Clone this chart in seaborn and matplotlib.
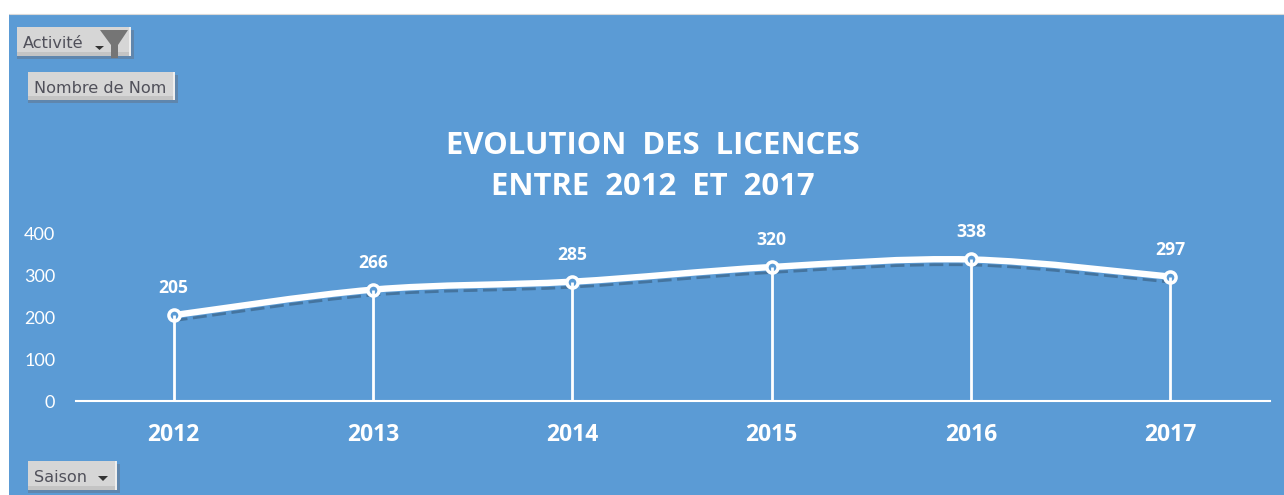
import numpy as np
import pandas as pd
import seaborn as sns
import matplotlib.pyplot as plt
from matplotlib.patches import Rectangle, Polygon, PathPatch
from matplotlib.path import Path
from matplotlib.transforms import ScaledTranslation

years = ['2012', '2013', '2014', '2015', '2016', '2017']
licences = [205, 266, 285, 320, 338, 297]
yticks = [0, 100, 200, 300, 400]

BLUE = '#5b9bd5'
W, H = 1284, 495

sns.set_theme(style='white')
plt.rcParams['font.family'] = ['Lato', 'DejaVu Sans']


def smooth_path(ys):
    # courbe lissee facon Excel
    n = len(ys)
    verts = [(0, ys[0])]
    codes = [Path.MOVETO]
    for i in range(n - 1):
        y0 = ys[max(i - 1, 0)]
        y3 = ys[min(i + 2, n - 1)]
        x0 = max(i - 1, 0)
        x3 = min(i + 2, n - 1)
        verts.append((i + (i + 1 - x0) / 6, ys[i] + (ys[i + 1] - y0) / 6))
        verts.append((i + 1 - (x3 - i) / 6, ys[i + 1] - (y3 - ys[i]) / 6))
        verts.append((i + 1, ys[i + 1]))
        codes += [Path.CURVE4] * 3
    return Path(verts, codes)


def button(ax, x0, y0, x1, y1, label, fs=11):
    ax.add_patch(Rectangle((x0, y0 + 3), x1 - x0 + 3, y1 - y0, color='#5f86ad', lw=0))
    ax.add_patch(Rectangle((x0, y0), x1 - x0, y1 - y0, color='#d6d6d6', lw=0))
    ax.add_patch(Rectangle((x0, y1 - 4), x1 - x0, 4, color='#c4c4c4', lw=0))
    ax.add_patch(Rectangle((x1 - 2, y0), 2, y1 - y0, color='#eeeeee', lw=0))
    ax.text(x0 + 6, (y0 + y1) / 2 + 2.5, label, fontsize=fs, color='#50505a', va='center',
            ha='left', family=['DejaVu Sans'])


fig = plt.figure(figsize=(W / 100, H / 100), dpi=100, facecolor='white')

# calque en pixels pour le fond, les boutons et le titre
bg = fig.add_axes([0, 0, 1, 1], zorder=0)
bg.set_xlim(0, W)
bg.set_ylim(H, 0)
bg.axis('off')
bg.add_patch(Rectangle((9, 14), W - 9, H - 14, color=BLUE, lw=0))
bg.plot([9, W], [13.5, 13.5], color='#d9d9d9', lw=0.8)

button(bg, 17, 27, 131, 56, 'Activité', 11.6)
button(bg, 28, 72, 175, 100, 'Nombre de Nom', 11.6)
button(bg, 28, 461, 117, 490, 'Saison', 11.6)

# entonnoir et fleches des filtres
bg.add_patch(Polygon([(100, 30), (128, 30), (118, 45), (118, 58), (111, 58), (111, 45)], color='#757575', lw=0))
bg.add_patch(Polygon([(95, 46), (104, 46), (99.5, 50)], color='#333333', lw=0))
bg.add_patch(Polygon([(98, 476), (108, 476), (103, 481)], color='#333333', lw=0))

bg.text(653, 146, 'EVOLUTION  DES  LICENCES', color='white', fontsize=22.3, fontweight='bold',
        ha='center', va='center', family=['Open Sans'])
bg.text(653, 187, 'ENTRE  2012  ET  2017', color='white', fontsize=22.3, fontweight='bold',
        ha='center', va='center', family=['Open Sans'])

ax = fig.add_axes([74 / W, (H - 401) / H, (1270 - 74) / W, (401 - 233.5) / H], zorder=1)
ax.patch.set_alpha(0)

df = pd.DataFrame({'Saison': years, 'Licences': licences})
sns.lineplot(data=df, x='Saison', y='Licences', ax=ax, linestyle='none', marker='o', markersize=8,
             markerfacecolor=BLUE, markeredgecolor='white', markeredgewidth=2.5, zorder=6)

ax.set_xlim(-0.5, 5.5)
ax.set_ylim(0, 400)

# ombre sous la courbe
curve = smooth_path(licences)
shadow = ax.transData + ScaledTranslation(0, -5.5 / 100, fig.dpi_scale_trans)
ax.add_patch(PathPatch(curve, fill=False, ec='#44749f', lw=2, ls=(0, (5, 2)), transform=shadow, zorder=2))
ax.add_patch(PathPatch(curve, fill=False, ec='white', lw=4.6, zorder=4, capstyle='round'))

ax.vlines(range(len(years)), 0, licences, color='white', lw=2, zorder=7)

for i, v in enumerate(licences):
    ax.annotate(str(v), (i, v), xytext=(0, 13), textcoords='offset points', ha='center', va='bottom',
                color='white', fontsize=12.6, fontweight='bold', family=['Open Sans'])

ax.set_xlabel('')
ax.set_ylabel('')
ax.set_yticks(yticks, [str(t) for t in yticks], family=['Lato'])
ax.set_xticks(range(len(years)), years, fontweight='bold', family=['Open Sans'])
ax.tick_params(axis='y', length=0, pad=13.5, labelcolor='white', labelsize=13)
ax.tick_params(axis='x', length=0, pad=15.5, labelcolor='white', labelsize=16.5)
sns.despine(ax=ax, left=True, right=True, top=True)
ax.spines['bottom'].set_color('white')
ax.spines['bottom'].set_linewidth(1.5)
ax.spines['bottom'].set_bounds(-0.49, 5.5)
ax.grid(False)

fig.savefig('out.png', dpi=100, facecolor='white')
